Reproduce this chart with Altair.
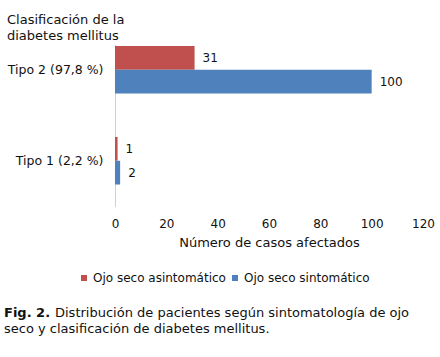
import altair as alt
import pandas as pd

categories = ["Tipo 2 (97,8 %)", "Tipo 1 (2,2 %)"]
series = ["Ojo seco asintomático", "Ojo seco sintomático"]
asintomatico = [31, 1]
sintomatico = [100, 2]
colors = ["#C0504D", "#4F81BD"]
x_ticks = [0, 20, 40, 60, 80, 100, 120]

rows = []
for i, c in enumerate(categories):
    rows.append({"cat": c, "serie": series[0], "val": asintomatico[i]})
    rows.append({"cat": c, "serie": series[1], "val": sintomatico[i]})
df = pd.DataFrame(rows)

FONT = "DejaVu Sans"
TXT = "#111111"
FS = 13

base = alt.Chart(df).encode(
    y=alt.Y("cat:N", sort=categories,
            scale=alt.Scale(domain=categories, range=[1, 139.5], paddingInner=0.478, paddingOuter=0),
            axis=alt.Axis(title=None, domain=False, ticks=False, labelPadding=12,
                          labelFontSize=12.5, labelColor=TXT, labelFont=FONT)),
    yOffset=alt.YOffset("serie:N", sort=series, scale=alt.Scale(domain=series, paddingInner=0, paddingOuter=0)),
    x=alt.X("val:Q", scale=alt.Scale(domain=[0, 120], nice=False),
            axis=alt.Axis(title="Número de casos afectados", values=x_ticks, domain=False, ticks=False,
                          tickSize=0, grid=False, labelFlush=False, labelPadding=11, labelFontSize=12,
                          labelColor=TXT, labelFont=FONT, titleFont=FONT, titleFontSize=FS,
                          titleFontWeight="normal", titleColor=TXT, titlePadding=7)),
)

axis_line = alt.Chart(pd.DataFrame({"a": [0]})).mark_rule(color="#d0d0d0", strokeWidth=1).encode(
    x=alt.value(0.5), y=alt.value(0), y2=alt.value(162)
)

bars = base.mark_bar().encode(
    color=alt.Color("serie:N", sort=series, scale=alt.Scale(domain=series, range=colors),
                    legend=alt.Legend(title=None, orient="none", direction="horizontal",
                                      legendX=-37, legendY=227, symbolType="square", symbolSize=36,
                                      symbolStrokeWidth=0, labelFontSize=12, labelFont=FONT,
                                      labelColor=TXT, columnPadding=3, labelOffset=3))
)

labels = base.mark_text(align="left", baseline="middle", dx=8, fontSize=12, font=FONT, color=TXT).encode(
    text=alt.Text("val:Q")
)

def note(txt, x, y, bold=False):
    return alt.Chart(pd.DataFrame({"t": [txt]})).mark_text(
        align="left", baseline="alphabetic", fontSize=FS, font=FONT, color=TXT,
        fontWeight="bold" if bold else "normal"
    ).encode(text="t:N", x=alt.value(x), y=alt.value(y))

ox, oy = 115, 45
notes = [
    note("Clasificación de la", 7 - ox, 24 - oy),
    note("diabetes mellitus", 7 - ox, 40 - oy),
    note("Fig. 2.", 4 - ox, 317 - oy, bold=True),
    note("Distribución de pacientes según sintomatología de ojo", 55 - ox, 317 - oy),
    note("seco y clasificación de diabetes mellitus.", 4 - ox, 333 - oy),
]

chart = alt.layer(axis_line, bars, labels, *notes).properties(
    width=308, height=162,
    autosize=alt.AutoSizeParams(type="none"),
    padding={"left": ox, "top": oy, "right": 17, "bottom": 150},
    background="white",
).configure_view(stroke=None)

chart.save("out.html", embed_options={"renderer": "svg", "actions": False})
